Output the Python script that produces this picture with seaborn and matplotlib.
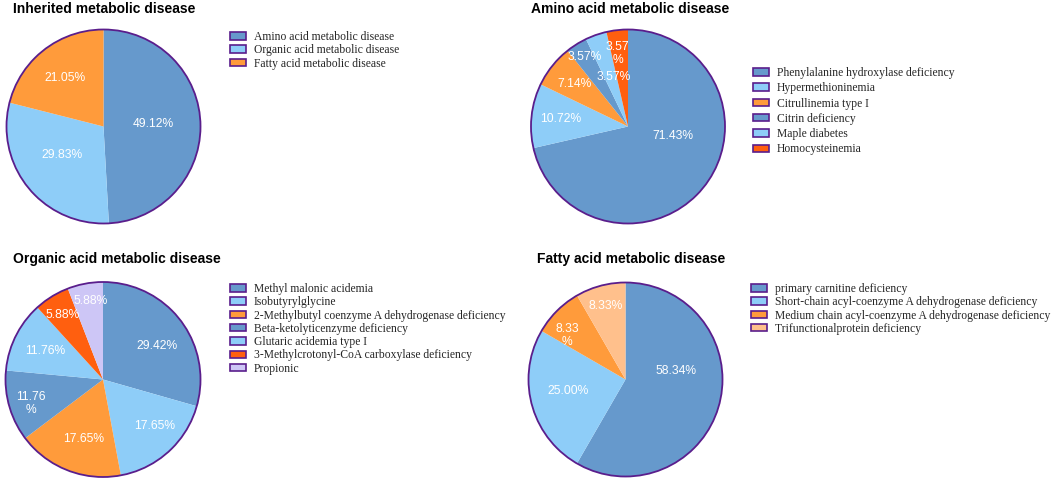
import numpy as np
import matplotlib
matplotlib.use("Agg")
import matplotlib.pyplot as plt
from matplotlib.patches import Circle, Patch
import seaborn as sns

# ---- data ----
titles = ["Inherited metabolic disease", "Amino acid metabolic disease",
          "Organic acid metabolic disease", "Fatty acid metabolic disease"]

inherited_labels = ["Amino acid metabolic disease", "Organic acid metabolic disease",
                    "Fatty acid metabolic disease"]
inherited_values = [49.12, 29.83, 21.05]

amino_labels = ["Phenylalanine hydroxylase deficiency", "Hypermethioninemia",
                "Citrullinemia type I", "Citrin deficiency", "Maple diabetes",
                "Homocysteinemia"]
amino_values = [71.43, 10.72, 7.14, 3.57, 3.57, 3.57]

organic_labels = ["Methyl malonic acidemia", "Isobutyrylglycine",
                  "2-Methylbutyl coenzyme A dehydrogenase deficiency",
                  "Beta-ketolyticenzyme deficiency", "Glutaric acidemia type I",
                  "3-Methylcrotonyl-CoA carboxylase deficiency", "Propionic"]
organic_values = [29.42, 17.65, 17.65, 11.76, 11.76, 5.88, 5.88]

fatty_labels = ["primary carnitine deficiency",
                "Short-chain acyl-coenzyme A dehydrogenase deficiency",
                "Medium chain acyl-coenzyme A dehydrogenase deficiency",
                "Trifunctionalprotein deficiency"]
fatty_values = [58.34, 25.00, 8.33, 8.33]

# ---- colours ----
BLUE, LBLUE, ORANGE, RED, LAV, PEACH = "#6699CC", "#8ECDF8", "#FF9B3B", "#FF5F0F", "#CDC6F6", "#FFC08C"
EDGE = "#5A1E8C"
inherited_colors = [BLUE, LBLUE, ORANGE]
amino_colors = [BLUE, LBLUE, ORANGE, BLUE, LBLUE, RED]
organic_colors = [BLUE, LBLUE, ORANGE, BLUE, LBLUE, RED, LAV]
fatty_colors = [BLUE, LBLUE, ORANGE, PEACH]

# ---- layout (pixels) ----
W, H = 1052, 479
charts = [
    # pie centre/radius, title xy, legend xy, label radius, label angle shift, wrapped labels, legend spacing
    dict(v=inherited_values, l=inherited_labels, c=inherited_colors, pie=(103.5, 126.5, 97),
         title=(13, 13), leg=(230, 31), r=[0.51, 0.52, 0.64], sh=[-1.4, 5.5, 0],
         wrap=[False] * 3, sp=0.11),
    dict(v=amino_values, l=amino_labels, c=amino_colors, pie=(628, 126.5, 97),
         title=(531, 13), leg=(753, 67), r=[0.47, 0.70, 0.71, 0.84, 0.53, 0.76],
         sh=[-26.6, 0, 0, 0, 3, -1.6], wrap=[False] * 5 + [True], sp=0.28),
    dict(v=organic_values, l=organic_labels, c=organic_colors, pie=(103, 379.5, 97.5),
         title=(13, 263), leg=(230, 283), r=[0.65, 0.71, 0.64, 0.78, 0.66, 0.78, 0.82],
         sh=[5, -6, -3, -2.5, 0, 0, 1.6], wrap=[False, False, False, True, False, False, False], sp=0.11),
    dict(v=fatty_values, l=fatty_labels, c=fatty_colors, pie=(625.5, 379.5, 97),
         title=(537, 263), leg=(751, 283), r=[0.53, 0.60, 0.75, 0.78], sh=[-24, 4, -8, 0],
         wrap=[False, False, True, False], sp=0.11),
]

sns.set_theme(style="white")
plt.rcParams["font.family"] = ["Liberation Sans", "DejaVu Sans"]

fig = plt.figure(figsize=(W / 100, H / 100), dpi=100)

for t, ch in zip(titles, charts):
    cx, cy, rad = ch["pie"]
    ax = fig.add_axes([(cx - rad) / W, (H - cy - rad) / H, 2 * rad / W, 2 * rad / H])
    wedges, _ = ax.pie(ch["v"], colors=ch["c"], startangle=90, counterclock=False,
                       wedgeprops=dict(linewidth=0))
    ax.add_patch(Circle((0, 0), 1, fill=False, edgecolor=EDGE, lw=1.3, clip_on=False))
    ax.set_xlim(-1, 1)
    ax.set_ylim(-1, 1)
    ax.set_aspect("equal")
    ax.axis("off")

    # percentage labels inside the slices
    for w, v, d, s, wr in zip(wedges, ch["v"], ch["r"], ch["sh"], ch["wrap"]):
        mid = np.deg2rad((w.theta1 + w.theta2) / 2 - s)
        txt = f"{v:.2f}\n%" if wr else f"{v:.2f}%"
        ax.text(d * np.cos(mid), d * np.sin(mid), txt, color="white", fontsize=8.7,
                ha="center", va="center", linespacing=1.1)

    fig.text(ch["title"][0] / W, 1 - ch["title"][1] / H, t, fontsize=10, fontweight="bold",
             ha="left", va="baseline", color="black")

    handles = [Patch(facecolor=c, edgecolor=EDGE, linewidth=1.2) for c in ch["c"]]
    fig.legend(handles, ch["l"], loc="upper left",
               bbox_to_anchor=(ch["leg"][0] / W, 1 - ch["leg"][1] / H),
               frameon=False, borderpad=0, borderaxespad=0,
               handlelength=1.35, handleheight=0.6, handletextpad=0.7,
               labelspacing=ch["sp"],
               prop=dict(family="Liberation Serif", size=8.4))

fig.savefig("out.png", dpi=100)
